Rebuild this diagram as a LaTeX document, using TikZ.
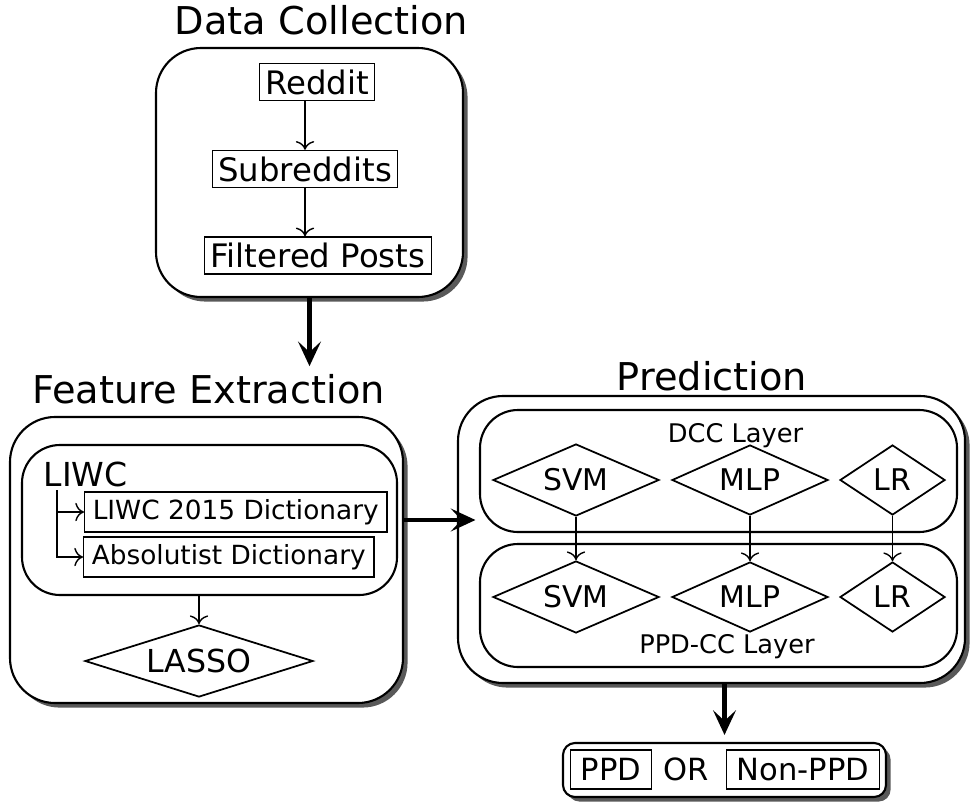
\documentclass[tikz,border=0pt]{standalone}
\usepackage{fontspec}
\setmainfont{DejaVu Sans}
\usetikzlibrary{shapes.geometric,shadows,arrows.meta}

\begin{document}
\begin{tikzpicture}[
        paneltitle/.style={anchor=base, inner sep=0pt, font=\fontsize{10.9}{13}\selectfont},
        panel/.style={draw, semithick, rounded corners=0.45cm, fill=white,
            drop shadow={shadow xshift=1.3pt, shadow yshift=-1.3pt, fill=black!65, opacity=1}},
        layerbox/.style={draw, semithick, rounded corners=0.38cm},
        itembox/.style={draw, thin, inner xsep=1.7pt, inner ysep=0.5pt, minimum height=0.37cm, font=\fontsize{9.2}{11}\selectfont},
        dictbox/.style={draw, thin, anchor=west, inner xsep=2.3pt, inner ysep=0.5pt, minimum height=0.40cm, font=\fontsize{7.5}{9}\selectfont},
        modelnode/.style={draw, line width=0.5pt, diamond, aspect=2.3, inner sep=0pt, font=\fontsize{8.5}{10}\selectfont},
        layername/.style={anchor=base, font=\fontsize{7.3}{9}\selectfont},
        bigarrow/.style={-{Stealth[length=7pt,width=6.5pt,inset=3pt]}, line width=1.2pt},
        smallarrow/.style={->, thin}
    ]
    \useasboundingbox (0,0) rectangle (9.71,-8.03);

    % Recollida de dades
    \node[paneltitle] (dctitle) at (3.215,-0.35) {Data Collection};
    \node[panel, minimum width=3.07cm, minimum height=2.49cm] (dcbox) at (3.095,-1.725) {};
    \node[itembox] (reddit) at (3.17,-0.82) {Reddit};
    \node[itembox] (subs) at (3.05,-1.69) {Subreddits};
    \node[itembox] (posts) at (3.18,-2.555) {Filtered Posts};
    \draw[smallarrow] (reddit.south -| subs.north) -- (subs.north);
    \draw[smallarrow] (subs.south) -- (subs.south |- posts.north);

    % Extraccio de caracteristiques
    \node[paneltitle] (fetitle) at (2.085,-4.03) {Feature Extraction};
    \node[panel, minimum width=3.93cm, minimum height=2.86cm] (febox) at (2.065,-5.60) {};
    \node[layerbox, minimum width=3.75cm, minimum height=1.50cm] (liwcbox) at (2.095,-5.20) {};
    \node[anchor=base west, inner sep=0pt, font=\fontsize{9.4}{11}\selectfont] (liwc) at (0.43,-4.86) {LIWC};
    \node[dictbox] (liwcdict) at (0.84,-5.12) {LIWC 2015 Dictionary};
    \node[dictbox] (absdict) at (0.83,-5.57) {Absolutist Dictionary};
    \coordinate (fork) at (0.57,-4.90);
    \draw[smallarrow] (fork) |- (liwcdict.west);
    \draw[smallarrow] (fork) |- (absdict.west);
    \node[modelnode, minimum width=2.28cm, minimum height=0.72cm, font=\fontsize{9}{11}\selectfont] (lasso) at (1.99,-6.61) {LASSO};
    \draw[smallarrow] (lasso.north |- liwcbox.south) -- (lasso.north);

    % Prediccio: dues capes de classificadors
    \node[paneltitle] (predtitle) at (7.12,-3.90) {Prediction};
    \node[panel, minimum width=5.07cm, minimum height=2.87cm] (predbox) at (7.115,-5.395) {};
    \node[layerbox, minimum width=4.77cm, minimum height=1.22cm] (dccbox) at (7.185,-4.71) {};
    \node[layerbox, minimum width=4.77cm, minimum height=1.23cm] (ppdccbox) at (7.185,-6.055) {};
    \node[layername] (dcclabel) at (7.355,-4.42) {DCC Layer};
    \node[layername] (ppdcclabel) at (7.27,-6.53) {PPD-CC Layer};

    \node[modelnode, minimum width=1.66cm, minimum height=0.72cm] (dccsvm) at (5.76,-4.80) {SVM};
    \node[modelnode, minimum width=1.56cm, minimum height=0.70cm] (dccmlp) at (7.50,-4.80) {MLP};
    \node[modelnode, minimum width=1.05cm, minimum height=0.70cm] (dcclr) at (8.925,-4.80) {LR};
    \node[modelnode, minimum width=1.66cm, minimum height=0.72cm] (ppdsvm) at (5.76,-5.97) {SVM};
    \node[modelnode, minimum width=1.56cm, minimum height=0.70cm] (ppdmlp) at (7.50,-5.97) {MLP};
    \node[modelnode, minimum width=1.05cm, minimum height=0.70cm] (ppdlr) at (8.925,-5.97) {LR};
    \foreach \m in {svm,mlp,lr}
        \draw[smallarrow] (dcc\m.south) -- (ppd\m.north);

    % Resultat
    \node[panel, rounded corners=0.12cm, minimum width=3.23cm, minimum height=0.54cm] (outbox) at (7.245,-7.70) {};
    \node[itembox, inner xsep=3pt, minimum height=0.39cm, font=\fontsize{8.7}{10}\selectfont] (ppd) at (6.11,-7.695) {PPD};
    \node[font=\fontsize{8.7}{10}\selectfont] (or) at (6.865,-7.695) {OR};
    \node[itembox, inner xsep=3pt, minimum height=0.39cm, font=\fontsize{8.7}{10}\selectfont] (nonppd) at (8.03,-7.695) {Non-PPD};

    % Fletxes entre blocs
    \draw[bigarrow, shorten >=2pt] (dcbox.south) -- (dcbox.south |- fetitle.north);
    \draw[bigarrow, shorten >=1pt] (febox.east |- liwcbox.east) -- (dccbox.west |- liwcbox.east);
    \draw[bigarrow, shorten >=2pt] (predbox.south -| outbox.north) -- (outbox.north);
\end{tikzpicture}
\end{document}
